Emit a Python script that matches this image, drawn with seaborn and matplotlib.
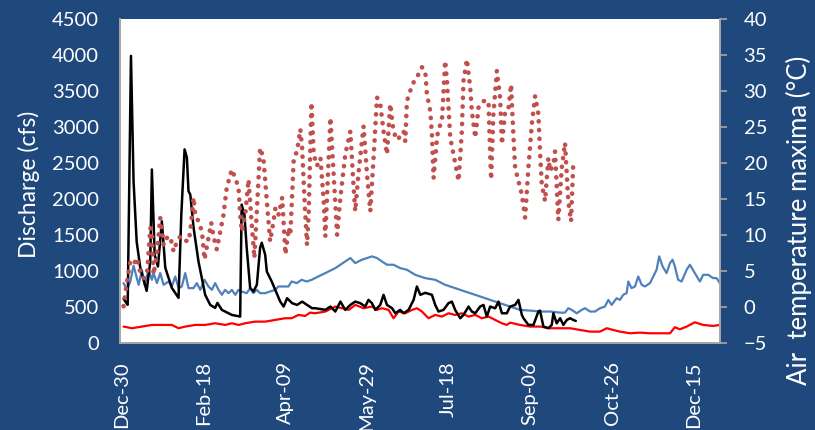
import numpy as np
import pandas as pd
import matplotlib
matplotlib.use("Agg")
import matplotlib.pyplot as plt
import seaborn as sns

# x values are day offsets counted from Dec-30; y values
black_days = [1.2, 3.7, 5.7, 7.3, 9.2, 11.4, 15.3, 17.5, 18.5, 20.2,
              22.2, 24.6, 26.7, 30.7, 34.8, 36.5, 38.5, 39.9, 40.9, 42.0,
              44.0, 47.0, 51.1, 54.2, 57.2, 58.6, 61.3, 67.4, 72.5, 73.4,
              75.1, 76.5, 78.6, 80.6, 82.7, 84.7, 85.7, 87.8, 88.8, 91.8,
              97.0, 99.1, 101.2, 104.3, 107.3, 110.4, 113.4, 116.5, 118.5, 124.6,
              127.7, 130.7, 133.8, 136.8, 139.9, 142.9, 146.0, 149.0, 151.0, 153.1,
              155.2, 158.2, 160.2, 162.3, 165.4, 167.4, 170.4, 172.5, 175.5, 178.6,
              180.6, 182.7, 185.7, 189.8, 191.8, 193.8, 196.9, 199.9, 202.0, 204.0,
              207.1, 209.1, 212.2, 214.2, 216.3, 219.3, 221.3, 223.4, 225.4, 228.5,
              230.5, 232.6, 235.6, 237.6, 240.7, 242.7, 244.8, 245.8, 248.8, 251.9,
              254.9, 255.9, 258.0, 261.0, 263.1, 264.1, 266.1, 268.2, 270.2, 272.3,
              274.3, 276.3, 277.8]
black_cfs = [613, 530, 3988, 2243, 1407, 1045, 724, 1128, 2410, 1226,
             1063, 1690, 1045, 766, 627, 1783, 2689, 2577, 2108, 2062,
             1602, 1133, 669, 529, 488, 557, 460, 390, 367, 1922,
             1783, 1323, 766, 715, 808, 1323, 1393, 1226, 993, 854,
             575, 506, 622, 553, 529, 575, 529, 483, 483, 460,
             506, 437, 575, 460, 529, 575, 553, 506, 599, 553,
             460, 529, 669, 529, 483, 413, 460, 413, 460, 599,
             785, 669, 697, 669, 529, 437, 460, 553, 575, 460,
             344, 390, 506, 437, 413, 506, 529, 367, 506, 483,
             575, 413, 413, 506, 529, 599, 390, 344, 251, 251,
             437, 450, 228, 205, 251, 413, 274, 344, 251, 320,
             344, 320, 306]

blue_days = [1.2, 3.2, 5.3, 7.3, 9.3, 10.4, 12.4, 14.0, 16.5, 18.5,
             19.5, 21.6, 23.6, 25.7, 28.7, 30.7, 32.8, 34.8, 36.8, 38.9,
             40.9, 44.0, 46.0, 48.1, 50.7, 53.1, 55.2, 57.2, 59.3, 61.3,
             63.3, 65.4, 67.4, 69.5, 71.5, 73.5, 76.5, 78.6, 80.6, 82.7,
             84.7, 87.8, 90.8, 93.9, 95.9, 97.9, 102.0, 104.0, 107.1, 110.1,
             113.2, 116.3, 120.3, 124.6, 130.7, 136.8, 139.9, 142.9, 147.0, 150.1,
             153.1, 156.2, 159.2, 162.3, 166.3, 170.4, 174.5, 179.6, 185.7, 191.8,
             197.9, 204.0, 210.1, 216.3, 222.4, 228.5, 234.6, 237.6, 243.7, 249.8,
             256.0, 262.1, 268.2, 271.2, 273.2, 275.3, 278.4, 281.4, 283.4, 286.5,
             289.5, 292.6, 295.6, 297.7, 299.7, 302.8, 304.8, 306.8, 308.9, 309.9,
             311.9, 314.0, 316.0, 318.1, 320.1, 323.2, 325.2, 327.2, 328.8, 330.9,
             333.3, 335.4, 337.0, 338.4, 340.4, 342.5, 345.6, 347.6, 350.6, 353.7,
             355.7, 358.8, 361.8, 363.9, 365.9]
blue_cfs = [832, 738, 854, 1073, 901, 808, 1017, 808, 1017, 878,
            971, 832, 971, 808, 854, 785, 924, 762, 785, 971,
            762, 762, 832, 738, 878, 785, 738, 832, 738, 669,
            738, 692, 738, 669, 738, 715, 692, 762, 692, 738,
            692, 692, 715, 738, 785, 785, 785, 854, 832, 878,
            854, 878, 924, 971, 1040, 1133, 1180, 1110, 1157, 1180,
            1203, 1180, 1133, 1087, 1087, 1040, 1017, 947, 901, 878,
            808, 762, 715, 669, 622, 575, 529, 506, 460, 450,
            437, 437, 422, 422, 483, 460, 413, 460, 483, 437,
            437, 483, 506, 599, 529, 622, 599, 669, 692, 854,
            762, 785, 924, 808, 785, 832, 924, 1017, 1203, 1063,
            971, 1110, 1157, 1063, 878, 854, 1017, 1087, 971, 854,
            947, 947, 901, 901, 832]

red_days = [1.2, 6.3, 12.4, 18.5, 24.6, 30.7, 34.8, 38.9, 45.0, 51.1,
            57.2, 63.3, 67.4, 71.5, 75.6, 81.7, 87.8, 93.9, 100.0, 104.0,
            108.1, 112.2, 115.3, 118.3, 124.6, 130.7, 134.8, 138.9, 142.9, 148.0,
            153.1, 156.2, 159.2, 163.3, 166.3, 169.4, 173.5, 177.6, 180.6, 183.7,
            187.7, 191.8, 195.9, 199.9, 204.0, 208.1, 212.2, 216.3, 220.3, 224.4,
            228.5, 232.6, 235.6, 237.6, 243.7, 249.8, 256.0, 262.1, 268.2, 274.3,
            280.4, 286.5, 292.6, 296.7, 300.7, 304.8, 310.9, 317.0, 323.2, 329.3,
            335.4, 338.4, 341.4, 345.6, 350.6, 355.7, 361.8, 365.9]
red_cfs = [228, 205, 228, 251, 251, 251, 205, 228, 251, 251,
           274, 251, 274, 251, 274, 297, 297, 320, 344, 344,
           390, 376, 422, 413, 437, 506, 483, 460, 529, 483,
           506, 460, 483, 460, 344, 437, 413, 460, 483, 437,
           344, 390, 367, 413, 390, 413, 367, 390, 344, 367,
           320, 274, 251, 283, 251, 228, 228, 205, 205, 205,
           181, 158, 158, 205, 181, 158, 135, 144, 135, 135,
           135, 219, 190, 228, 288, 251, 237, 251]

temp_days = [1.2, 3.3, 5.3, 7.3, 9.4, 10.4, 13.4, 15.5, 17.5, 18.5,
             19.5, 21.6, 23.6, 25.7, 27.7, 29.7, 31.8, 33.8, 35.9, 37.9,
             40.9, 42.0, 44.0, 45.0, 47.0, 49.1, 50.7, 52.7, 54.8, 56.2,
             58.2, 60.3, 62.3, 64.3, 67.4, 69.5, 71.5, 72.5, 73.5, 75.6,
             77.6, 78.6, 79.6, 81.2, 82.7, 84.7, 86.7, 88.8, 90.8, 92.9,
             94.1, 96.1, 98.2, 100.2, 102.2, 103.2, 105.3, 107.3, 109.3, 110.4,
             112.0, 113.4, 114.4, 116.1, 117.5, 119.5, 121.6, 123.6, 124.6, 126.6,
             127.7, 129.7, 131.8, 133.8, 136.8, 139.9, 141.9, 142.9, 145.0, 148.0,
             150.1, 152.1, 154.1, 156.2, 158.2, 160.2, 162.3, 164.3, 166.3, 168.4,
             170.4, 172.5, 173.5, 174.5, 176.5, 178.6, 180.6, 183.7, 185.7, 186.7,
             188.8, 189.8, 190.8, 192.9, 193.8, 195.9, 197.9, 199.0, 201.0, 203.0,
             206.1, 208.1, 209.1, 211.2, 213.2, 214.2, 216.3, 218.3, 221.3, 224.4,
             225.4, 226.0, 227.4, 229.5, 231.5, 232.6, 234.6, 236.6, 238.2, 239.7,
             240.7, 242.7, 244.8, 246.8, 248.8, 250.9, 252.9, 254.9, 256.0, 257.0,
             259.0, 261.0, 262.1, 264.1, 265.1, 267.1, 269.2, 271.2, 273.2, 274.9,
             276.3]
temp_max = [0.1, 3.5, 6.3, 5.9, 6.8, 5.4, 4.0, 4.5, 11.0, 10.5,
            4.5, 7.3, 12.4, 8.6, 9.6, 9.8, 7.7, 9.1, 9.8, 9.3,
            9.1, 10.5, 15.2, 12.8, 11.9, 10.5, 6.6, 9.1, 11.7, 9.8,
            8.0, 10.5, 12.8, 16.6, 19.1, 17.9, 16.6, 12.8, 10.5, 12.8,
            17.7, 14.7, 11.4, 6.8, 13.3, 22.1, 20.7, 14.7, 9.1, 11.9,
            13.8, 12.8, 15.2, 7.3, 11.0, 10.0, 20.7, 21.6, 24.7, 22.1,
            14.2, 8.6, 12.8, 28.4, 21.2, 19.6, 20.7, 14.7, 9.8, 20.3,
            26.3, 18.4, 10.0, 15.2, 21.2, 24.4, 16.6, 13.3, 18.9, 25.1,
            18.4, 13.3, 20.7, 29.1, 28.2, 24.4, 21.2, 28.2, 24.4, 23.2,
            23.7, 24.4, 23.0, 28.6, 30.0, 31.2, 31.9, 33.3, 32.8, 29.6,
            27.2, 24.0, 17.9, 23.5, 24.7, 25.8, 34.2, 31.4, 23.5, 21.2,
            17.5, 24.4, 31.4, 34.4, 30.5, 27.2, 23.5, 27.7, 28.6, 28.6,
            21.2, 17.7, 26.8, 32.8, 29.1, 22.6, 27.2, 27.5, 30.9, 23.5,
            19.3, 17.5, 15.6, 12.4, 19.3, 25.4, 29.3, 26.8, 21.2, 17.0,
            14.7, 20.7, 18.9, 19.8, 21.6, 12.1, 19.3, 22.8, 14.7, 11.9,
            20.3]

tick_labels = ["Dec-30", "Feb-18", "Apr-09", "May-29", "Jul-18", "Sep-06", "Oct-26", "Dec-15"]

start = pd.Timestamp("2014-12-30")


def to_dates(days):
    return start + pd.to_timedelta(np.asarray(days, dtype=float), unit="D")


bg = "#1F497D"
grey = "#A6A6A6"

sns.set_style("white")
plt.rcParams["font.family"] = ["Lato", "DejaVu Sans"]

fig = plt.figure(figsize=(8.15, 4.3), dpi=100, facecolor=bg)
ax = fig.add_axes([120 / 815, 87 / 430, 600 / 815, 324 / 430])
ax.set_facecolor("white")
ax2 = ax.twinx()

sns.lineplot(x=to_dates(blue_days), y=blue_cfs, ax=ax, color="#4F81BD", linewidth=1.6)
sns.lineplot(x=to_dates(red_days), y=red_cfs, ax=ax, color="#FF0000", linewidth=1.6)
sns.lineplot(x=to_dates(black_days), y=black_cfs, ax=ax, color="black", linewidth=1.8)
sns.lineplot(x=to_dates(temp_days), y=temp_max, ax=ax2, color="#C0504D", linewidth=3.3,
             linestyle=(0, (0.05, 1.85)), dash_capstyle="round")

ax.set_xlim(start - pd.Timedelta(days=1), start + pd.Timedelta(days=366))
ax.set_ylim(0, 4500)
ax.set_yticks(range(0, 4501, 500))
ax2.set_ylim(-5, 40)
ax2.set_yticks(range(-5, 41, 5))

ticks = pd.date_range(start, periods=len(tick_labels), freq="50D")
ax.set_xticks(ticks)
ax.set_xticklabels(tick_labels, rotation=90)

for a in (ax, ax2):
    for s in a.spines.values():
        s.set_color(grey)
        s.set_linewidth(1.2)
    a.spines["top"].set_visible(False)

ax.tick_params(axis="x", colors="white", labelsize=14.5, length=0, pad=13)
ax.tick_params(axis="y", colors="white", labelsize=14.5, length=0, pad=15)
ax2.tick_params(axis="y", colors="white", labelsize=14.5, length=5, width=1.2, pad=12)
ax2.tick_params(axis="y", color=grey)

ax.set_ylabel("Discharge (cfs)", color="white", fontsize=16.5)
ax.yaxis.set_label_coords(-0.133, 0.49)
ax2.set_ylabel("Air  temperature maxima (°C)", color="white", fontsize=18.5)
ax2.yaxis.set_label_coords(1.11, 0.38)

ax.grid(False)
ax2.grid(False)

fig.savefig("out.png", dpi=100, facecolor=bg)
